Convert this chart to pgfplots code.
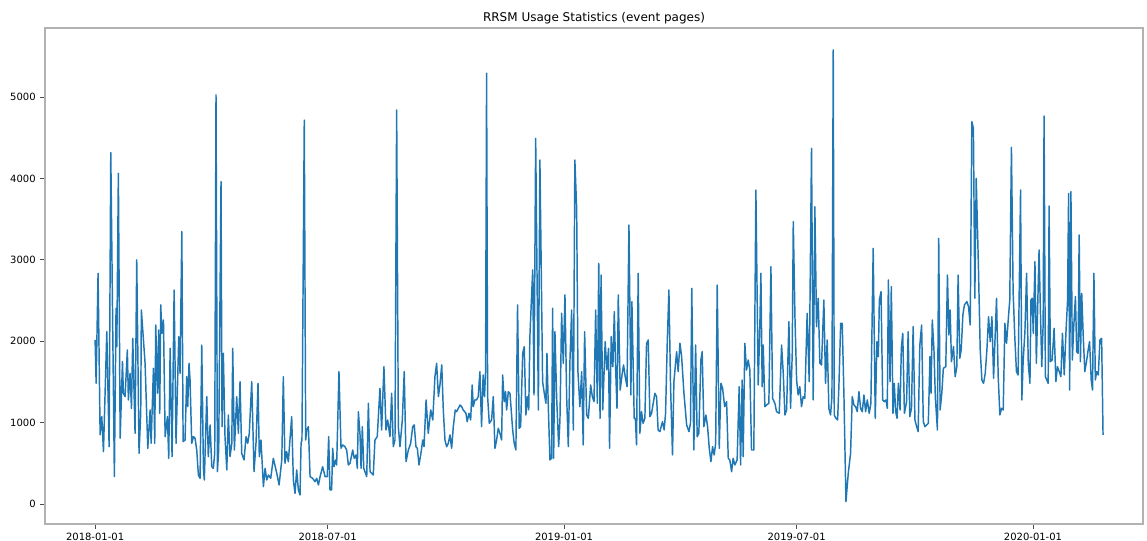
\documentclass[border=0pt]{standalone}
\usepackage{fontspec}
\setmainfont{DejaVu Sans}
\usepackage{pgfplots}
\usepackage{pgfplotstable}
\pgfplotsset{compat=1.18}
\definecolor{mplblue}{HTML}{1F77B4}
\pgfplotstableread{
d v
0 2015
0.8 1482
2.3 2834
3.9 850
5.2 1073
6.5 643
9.1 2117
10.9 704
12.2 4316
15 336
16.3 2404
16.9 1933
18.1 4062
19.5 807
21.3 1749
22 1360
23.3 1319
25.1 1892
25.9 1278
27.2 1605
28.3 1175
29.3 2035
31.1 868
32.4 2998
34.2 622
35.5 1114
36 2383
38.9 1728
41 684
42.8 1155
43.6 745
45.4 1667
46.4 745
47.2 2199
48.5 1360
49.5 2138
50.3 1114
51.1 2445
51.9 2097
53.2 2260
54.5 827
56.3 1073
57.3 561
58.4 1912
59.9 581
61.5 2629
63 745
65.1 2056
66.1 1605
67.5 3346
68.5 766
70 786
71.3 1564
72.1 1196
73.1 1728
73.9 1523
75.2 745
76.5 827
77.8 807
79.1 663
80.4 356
81.7 315
83 1953
84.3 438
85 295
86.9 1319
88.1 581
89.5 971
90.8 458
92 438
93.1 622
94.1 5025
95.2 397
96.2 663
98 3960
98.8 950
99.8 1851
101.1 827
102.5 418
103.7 1093
105 581
106.4 745
107.1 1912
108.4 663
110.2 1319
111.5 868
112.8 1503
114.1 622
115.9 541
117.5 827
118.8 745
120 868
121.9 1503
123.7 397
125.3 766
126.8 1482
127.8 581
129.1 786
131 213
132.3 438
133.6 295
134.9 356
136.7 315
138.7 561
141.4 377
143.2 233
145.3 541
146.5 1564
147.8 500
149.1 643
150.4 520
153 1073
154.3 295
155.6 131
156.9 418
158.2 172
159.5 111
160.3 745
161 786
162.8 4717
163.9 786
164.7 909
166 950
167.3 336
169.3 315
171.2 274
172.5 315
173.8 233
175.1 336
177.1 458
179 336
180.7 336
181.8 827
182.8 172
184.1 172
184.9 684
185.9 458
187.3 541
188 479
189.8 1626
191.4 684
192.7 725
194.5 704
195.8 663
197.1 479
198.4 500
200.5 663
201.7 561
203.1 602
204.1 438
204.9 1134
206.2 848
207 438
208 950
209.1 438
211.4 336
212.7 1237
214 397
216.5 356
217.8 786
219.6 827
221.7 1421
223 909
224.8 1687
226.4 909
227.7 1032
229.5 827
230.8 1360
232.1 704
233.4 786
234.7 4840
236 950
237.3 704
239.1 1032
240.6 1626
242 520
243.8 663
245.6 745
247.2 950
248.4 971
249.7 704
250.8 684
252.1 479
253.6 622
255 786
256 704
257.6 1278
259.3 868
261.2 1155
262.8 1032
264.5 1564
265.8 1728
267.2 1319
268.4 1462
269.8 1708
271 1155
272.3 786
273.6 704
274.9 745
276.2 848
277.5 684
278.8 950
280.3 1155
281.4 1134
282.7 1175
284 1216
285.3 1196
286.5 1155
288.6 1114
289.6 1011
291 1114
292.3 1032
293.5 1462
294.3 1196
295.6 1278
296.9 1278
298.2 1319
299.5 1626
300.8 950
302 1585
303.1 1319
303.9 1626
304.7 5291
305.5 1319
306.8 991
308.6 1032
309.9 1319
311.2 684
312.5 786
313.8 930
315.1 868
316.4 786
317.2 1585
318.4 1257
319.5 1380
320.3 1155
321.6 1380
322.9 1360
325 909
326.2 745
327.5 663
328.8 2445
330.1 930
331.2 950
332.8 1851
334 1933
335.3 1093
336.4 1319
337.5 1155
338.4 2056
339.8 2588
340.6 2875
341.6 1339
342.9 4492
345 1155
346.2 4226
348.3 1503
349.6 1360
350.9 1237
351.7 1851
352.7 1216
354 541
355.3 561
356.1 2404
356.9 561
357.9 2117
359.2 1319
360.8 704
361.8 1032
363.1 2342
364.4 1728
365.7 2568
367 1319
368.3 704
369.6 1769
370.9 2383
372.2 909
373.4 4226
374.8 3632
375.8 1626
377.3 1196
378.7 1626
379.9 725
381 2117
382.6 1093
383.9 1052
385.7 1462
387 1319
388.3 1257
389.6 2383
390.9 1237
392 2957
393 1052
393.8 2813
395.1 1155
397 1994
398.3 1646
399.6 1912
400.4 684
401.7 2056
403 1687
404.1 2363
405.1 1687
406.2 1175
407.2 2568
408.7 1400
410.1 1585
411.3 1708
412.6 1564
414 1441
415.5 3427
417 1339
417.8 2486
419.6 1052
420.5 1052
421.4 725
422.7 2834
424 868
425.3 1134
426.5 991
427.9 1052
429.2 1974
430.5 2015
431.8 1073
433.1 1114
435.7 1360
437 1319
438.2 909
439.6 889
441.6 1011
442.9 909
444 1114
445.3 1974
446.6 2629
447.9 1441
449.4 602
450.5 1503
452.6 1871
453.8 1626
455.2 1974
456.5 1810
458.3 1360
460.4 971
462.2 889
463.4 991
464.4 2650
466 663
467.4 1953
468.6 827
469.9 868
471.5 1769
472.5 1871
473.8 950
475.4 1093
476.7 950
478 684
479.3 520
480.6 704
481.8 602
483 745
484.2 2690
485.8 684
487.1 1482
488.4 1421
490 1196
491.5 1257
492.8 561
494 541
495.4 397
496.6 561
497.9 479
499.7 541
501.3 1441
502.4 479
503.6 1523
504.4 581
505.7 1974
507 1646
508.3 1769
509.6 1646
510.9 663
512.7 663
514.3 3857
516.1 1462
517.4 2199
518.2 2834
519.2 1441
520 1953
521.3 1196
522.6 1216
524.4 1237
526 2916
527.3 1298
529.1 1237
530.4 1134
532.5 1114
534.3 1953
535.6 1605
536.9 1093
538.2 1155
540 2240
541.3 1175
542.6 1851
543.4 3468
544.7 2301
546 1523
547.2 1339
548.5 1441
549.8 1196
551.1 1318
552.4 1298
554.2 2342
555.8 1503
557.6 4369
558.9 1278
560.2 3653
561.5 2179
562.8 2527
564.1 1728
565.4 1708
567.2 2506
568.5 1482
569.8 2015
571.1 1175
572.4 1093
573.5 1319
574.5 5580
575.3 1093
576.6 1052
577.9 1032
578.9 1441
580.3 2220
581.5 2220
582.8 1360
584.4 29
586.2 377
588 622
589.3 1319
590.6 1216
591.9 1196
593.2 1134
594.5 1380
595.8 1175
597.1 1134
598.4 1339
599.7 1134
601 1278
602.5 1114
603.8 1237
605.6 3141
607.2 1052
608.5 1994
609.6 1810
610.4 2506
611.7 2609
613 1278
614.3 1257
615.6 1278
616.6 1175
617.4 2752
618.7 1503
619.7 2670
621 1114
622 1482
623.1 1134
624.2 1052
625.2 1482
626.5 1155
627.5 1912
628.6 2097
629.9 1114
631.6 1257
632.8 2117
634.1 1073
635.4 1175
636.7 2179
638.1 1032
639.4 950
640.6 889
641.9 1953
643.3 2199
644.6 1011
645.9 950
647.2 971
648.5 991
649.8 1810
650.6 1360
651.6 2260
652.9 1892
654 1298
655.6 909
656.6 3264
657.7 1155
659 1360
660.2 1667
662.1 1687
663.4 2813
664.5 2076
665.5 2383
666.5 1749
668.1 1933
669.4 1564
670.7 1687
671.7 2813
673 1790
674.1 1892
675.4 2322
676.6 2445
678.5 2486
679.8 2424
681.1 2199
682.4 4697
683.6 4615
684.7 2527
685.8 4001
687.5 2916
688.9 1892
690.2 1523
691.5 1482
692.8 1605
694.1 1892
695.4 2301
696.7 1994
698 2301
699.3 1544
701.6 2527
702.9 1564
704.2 1093
705.5 1175
706.8 1155
708.1 2220
709.4 1974
710.7 2260
711.9 2506
713.2 4382
714.5 2609
715.8 2056
717.1 1626
718.4 1585
720.3 3857
721.3 1278
722.3 1749
723.7 2117
725 2834
726.3 1728
727.6 1482
728.4 2506
729.4 2527
730.2 2097
731.5 2977
732.6 1728
733.7 2465
734.7 3120
735.7 2404
736.8 1687
737.9 2220
738.6 4766
739.6 1564
740.7 1523
741.8 1482
742.5 3661
743.5 1749
744.9 1769
746.4 2158
747.8 1503
749 1687
750.4 1626
751.7 1564
752.9 2097
754.3 1585
755.6 2097
756.9 2506
757.7 3816
758.5 1400
759.5 3837
760.6 1769
761.7 2179
763 2547
764 1871
765.1 1851
765.9 3305
766.9 1749
767.9 2588
769.1 2056
770.3 1626
771.6 1749
772.9 1892
774 1994
775.3 1523
776.3 1400
777.4 2834
778.5 1523
779.5 1626
780.8 1585
782.1 2015
783.4 2035
784.5 848
}\usage
\begin{document}
\begin{tikzpicture}[x=1pt,y=1pt]
\path[use as bounding box] (0,0) rectangle (860.25,405.75);
\begin{axis}[
  at={(33.75pt,12.75pt)}, anchor=south west,
  width=823.5pt, height=372pt, scale only axis,
  xmin=-39, xmax=815.6, ymin=-246, ymax=5848,
  xtick={0,181,365,546,730},
  xticklabels={2018-01-01,2018-07-01,2019-01-01,2019-07-01,2020-01-01},
  ytick={0,1000,2000,3000,4000,5000},
  scaled y ticks=false,
  /pgf/number format/assume math mode=true,
  /pgf/number format/1000 sep={},
  tick label style={font=\fontsize{7.5}{9}\selectfont},
  tick align=outside, major tick length=3.5pt,
  xtick pos=bottom, ytick pos=left,
  axis line style={black!30, line width=0.8pt},
  tick style={black!70, line width=0.6pt},
  title={RRSM Usage Statistics (event pages)},
  title style={font=\fontsize{9}{11}\selectfont, at={(0.5,1)}, anchor=south, yshift=-6.5pt},
  clip=true,
]
\addplot[mplblue, line width=1.1pt, line join=round] table[x=d, y=v] {\usage};
\end{axis}
\end{tikzpicture}
\end{document}
